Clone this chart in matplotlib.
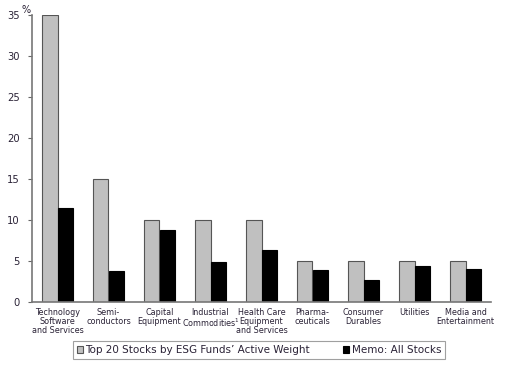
import matplotlib
matplotlib.use("Agg")
import matplotlib.pyplot as plt
import numpy as np

# sector labels and weights (%)
categories = [
    "Technology\nSoftware\nand Services",
    "Semi-\nconductors",
    "Capital\nEquipment",
    "Industrial\nCommodities$^{1}$",
    "Health Care\nEquipment\nand Services",
    "Pharma-\nceuticals",
    "Consumer\nDurables",
    "Utilities",
    "Media and\nEntertainment",
]
top20 = [35, 15, 10, 10, 10, 5, 5, 5, 5]
all_stocks = [11.5, 3.8, 8.8, 4.9, 6.3, 3.9, 2.7, 4.4, 4.0]
yticks = [0, 5, 10, 15, 20, 25, 30, 35]

txt = "#2a2236"
plt.rcParams['font.family'] = ['DejaVu Sans']

fig = plt.figure(figsize=(5.08, 3.68), dpi=100)
ax = fig.add_axes([32 / 508, 66 / 368, 459 / 508, 287 / 368])

x = np.arange(len(categories))
w = 0.3
ax.bar(x - w / 2, top20, w, color="#c0c0c0", edgecolor="#555555", linewidth=0.8,
       label="Top 20 Stocks by ESG Funds\u2019 Active Weight")
ax.bar(x + w / 2, all_stocks, w, color="black", edgecolor="black", linewidth=0.8,
       label="Memo: All Stocks")

ax.set_xlim(-0.5, 8.5)
ax.set_ylim(0, 35)
ax.set_yticks(yticks)
ax.set_xticks(x)
ax.set_xticklabels(categories, fontsize=5.8, color=txt, linespacing=1.0)
ax.tick_params(axis="x", length=0, pad=4)
ax.tick_params(axis="y", length=3, width=0.8, color="#666666", labelsize=7.2, labelcolor=txt, pad=6)

for s in ["top", "right"]:
    ax.spines[s].set_visible(False)
for s in ["left", "bottom"]:
    ax.spines[s].set_color("#777777")
    ax.spines[s].set_linewidth(1.2)

fig.text(22 / 508, 1 - 10 / 368, "%", fontsize=7, color=txt, va="center")

leg = fig.legend(loc="center", bbox_to_anchor=(259 / 508, 1 - 350 / 368), ncol=2,
                 fontsize=7.5, frameon=True, fancybox=False, edgecolor="#888888",
                 handlelength=0.6, handleheight=0.6, handletextpad=0.2,
                 columnspacing=3.2, borderpad=0.35)
leg.get_frame().set_linewidth(0.8)
for t in leg.get_texts():
    t.set_color(txt)

fig.savefig("out.png", dpi=100)
